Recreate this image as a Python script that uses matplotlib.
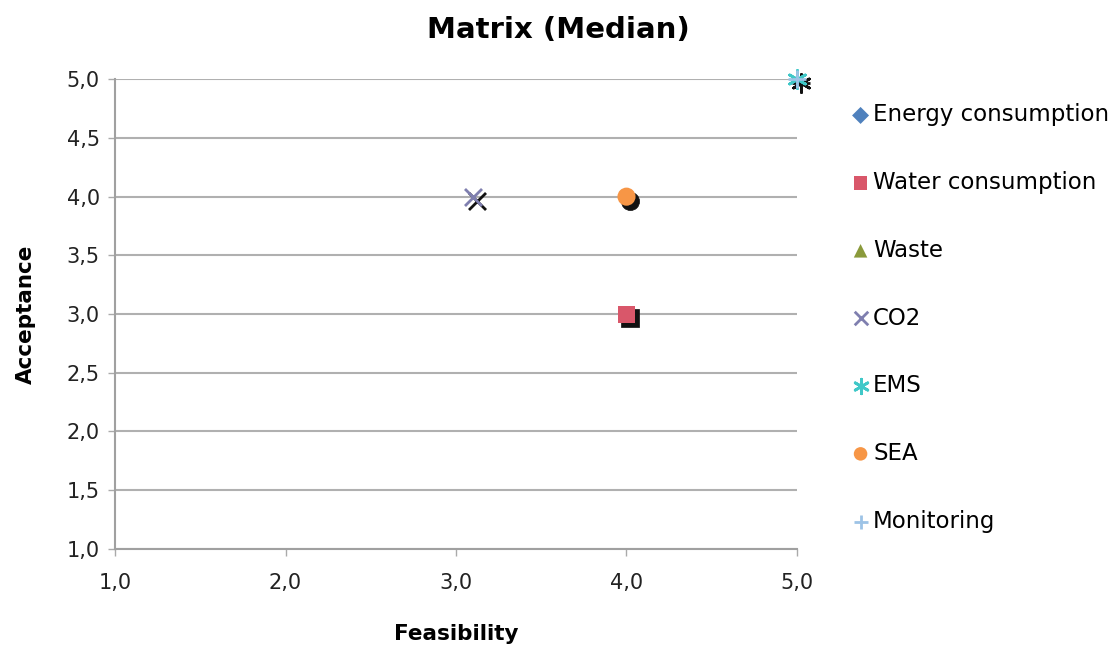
import matplotlib.pyplot as plt
import matplotlib.transforms as mtransforms
from matplotlib.ticker import FuncFormatter

# the source image is a bit stretched sideways, DejaVu's wider glyphs get closer than Arial
plt.rcParams['font.family'] = ['DejaVu Sans']

names = ['Energy consumption', 'Water consumption', 'Waste', 'CO2', 'EMS', 'SEA', 'Monitoring']
feasibility = [4.0, 4.0, 4.0, 3.1, 5.0, 4.0, 5.0]
acceptance = [4.0, 3.0, 4.0, 4.0, 5.0, 4.0, 5.0]
markers = ['D', 's', '^', 'x', (6, 2, 0), 'o', '+']
colors = ['#4F81BD', '#D9576A', '#8A9A3B', '#7F7FAF', '#40C8C8', '#F79646', '#9DC3E6']
sizes = [60, 150, 80, 150, 170, 170, 150]
leg_sizes = [75, 95, 95, 95, 110, 95, 110]
ticks = [1.0, 1.5, 2.0, 2.5, 3.0, 3.5, 4.0, 4.5, 5.0]
xticks = [1.0, 2.0, 3.0, 4.0, 5.0]

fig = plt.figure(figsize=(11.17, 6.55), dpi=100)
ax = fig.add_axes([0.103, 0.162, 0.6105, 0.717])

# shadow copies, shifted down-right like the excel drop shadow
shadow = mtransforms.offset_copy(ax.transData, fig=fig, x=4, y=-4, units='dots')
for i in range(len(names)):
    lw = 2.0 if markers[i] in ('x', '+', (6, 2, 0)) else 0.5
    ax.scatter(feasibility[i], acceptance[i], marker=markers[i], s=sizes[i], c='#111111',
               linewidths=lw, transform=shadow, zorder=3, clip_on=False)
    ax.scatter(feasibility[i], acceptance[i], marker=markers[i], s=sizes[i], c=colors[i],
               linewidths=lw, edgecolors=colors[i] if lw > 1 else 'none',
               label=names[i], zorder=4, clip_on=False)

ax.set_xlim(1.0, 5.0)
ax.set_ylim(1.0, 5.0)
ax.set_xticks(xticks)
ax.set_yticks(ticks)
fmt = FuncFormatter(lambda v, p: f'{v:.1f}'.replace('.', ','))
ax.xaxis.set_major_formatter(fmt)
ax.yaxis.set_major_formatter(fmt)
ax.tick_params(labelsize=15, labelcolor='#222222', length=5, width=1)
ax.tick_params(axis='x', color='#aaaaaa', pad=12)
ax.tick_params(axis='y', color='#aaaaaa', pad=6)
ax.grid(axis='y', color='#b0b0b0', linewidth=1.5)
ax.set_axisbelow(True)
for s in ['top', 'right']:
    ax.spines[s].set_visible(False)
for s in ['left', 'bottom']:
    ax.spines[s].set_color('#a0a0a0')
    ax.spines[s].set_linewidth(1.5)

ax.set_xlabel('Feasibility', fontsize=15.5, fontweight='bold', labelpad=23)
ax.set_ylabel('Acceptance', fontsize=15.5, fontweight='bold', labelpad=22)
fig.suptitle('Matrix (Median)', fontsize=21, fontweight='bold', x=0.5, y=0.975)

leg = ax.legend(loc='upper left', bbox_to_anchor=(1.063, 0.968), frameon=False,
                fontsize=16.5, handletextpad=0.05, labelspacing=1.95,
                handlelength=1.0, borderaxespad=0)
for h, sz in zip(leg.legend_handles, leg_sizes):
    h.set_sizes([sz])

fig.savefig('out.png', dpi=100)
